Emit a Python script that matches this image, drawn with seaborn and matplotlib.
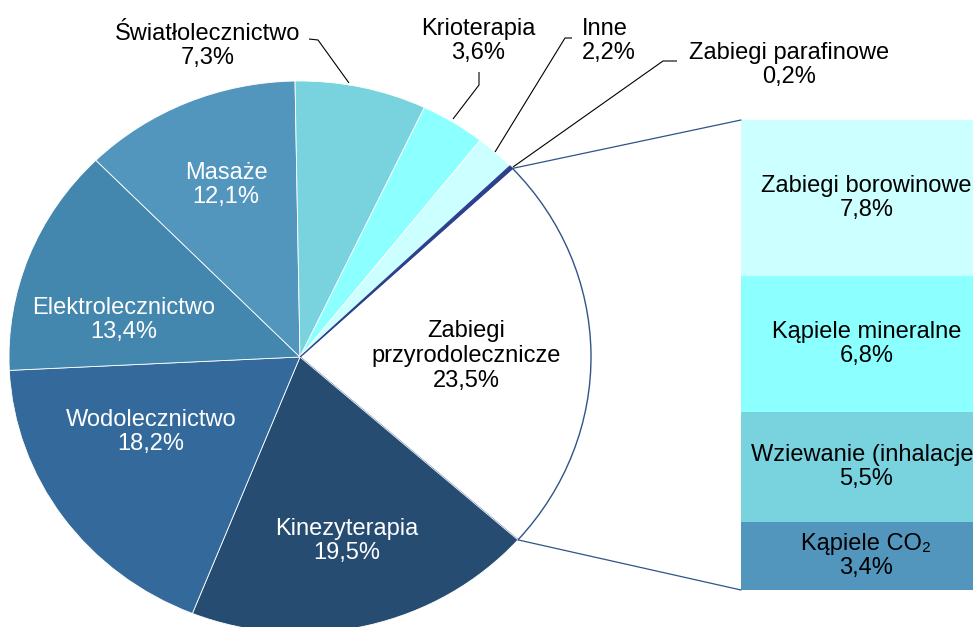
import matplotlib
matplotlib.use("Agg")
import matplotlib.pyplot as plt
from matplotlib.patches import ConnectionPatch
import seaborn as sns
import numpy as np

# ---------------- data ----------------
pie_labels = ["Zabiegi\nprzyrodolecznicze", "Kinezyterapia", "Wodolecznictwo",
              "Elektrolecznictwo", "Masaże", "Światłolecznictwo", "Krioterapia",
              "Inne", "Zabiegi parafinowe"]
pie_values = [23.5, 19.5, 18.2, 13.4, 12.1, 7.3, 3.6, 2.2, 0.2]
pie_colors = ["#FFFFFF", "#264C72", "#33699B", "#4386AE", "#5296BE",
              "#78D3DF", "#8CFFFF", "#CCFFFF", "#2E3F8F"]

bar_labels = ["Kąpiele CO₂", "Wziewanie (inhalacje)", "Kąpiele mineralne", "Zabiegi borowinowe"]
bar_values = [3.4, 5.5, 6.8, 7.8]
bar_colors = ["#5296BE", "#78D3DF", "#8CFFFF", "#CCFFFF"]

def fmt(v):
    return f"{v:.1f}".replace(".", ",") + "%"

# ---------------- style ----------------
sns.set_theme(style="white")
plt.rcParams['font.family'] = ['Liberation Sans', 'DejaVu Sans']
FS = 17.0
LS = 1.17

W, H = 973, 627
fig = plt.figure(figsize=(W / 100, H / 100), dpi=100)

# pie geometry (pixels)
CX, CY, RX, RY = 300, 357, 291, 276

ax = fig.add_axes([0, 0, 1, 1])
wedges, _ = ax.pie(pie_values, colors=pie_colors, startangle=43.1, counterclock=False,
                   radius=1, center=(0, 0),
                   wedgeprops=dict(edgecolor="white", linewidth=0.6))
wedges[0].set_edgecolor("#2F5488")
wedges[0].set_linewidth(1.0)
wedges[-1].set_edgecolor("#2E3F8F")
wedges[-1].set_linewidth(0.8)
ax.set_aspect("auto")
ax.set_xlim(-CX / RX, (W - CX) / RX)
ax.set_ylim(-(H - CY) / RY, CY / RY)
ax.axis("off")

def p2d(x, y):
    return (x - CX) / RX, (CY - y) / RY

# labels inside the pie
inner = {  # label index: (px, py, color)
    0: (466, 356, "black"),
    1: (347, 541, "white"),
    2: (151, 432, "white"),
    3: (124, 320, "white"),
    4: (226, 185, "white"),
}
for i, (px, py, col) in inner.items():
    x, y = p2d(px, py)
    ax.text(x, y, f"{pie_labels[i]}\n{fmt(pie_values[i])}", ha="center", va="center",
            color=col, fontsize=FS, linespacing=LS)

# outside labels with leader lines
outer = {
    5: ((208, 46), "center", [(309, 39), (318, 40), (349, 83)]),
    6: ((478, 41), "center", [(479, 72), (479, 85), (453, 119)]),
    7: ((582, 41), "left", [(572, 38), (565, 38), (495, 152)]),
    8: ((789, 65), "center", [(677, 61), (663, 61), (513, 167)]),
}
for i, ((px, py), ha, path) in outer.items():
    x, y = p2d(px, py)
    ax.text(x, y, f"{pie_labels[i]}\n{fmt(pie_values[i])}", ha=ha, va="center",
            color="black", fontsize=FS, linespacing=LS)
    pts = np.array([p2d(a, b) for a, b in path])
    ax.plot(pts[:, 0], pts[:, 1], color="black", lw=0.8, solid_capstyle="butt")

# ---------------- stacked bar ----------------
BX0, BY0, BW, BH = 741, 120, 256, 470
bax = fig.add_axes([BX0 / W, (H - BY0 - BH) / H, BW / W, BH / H])
bottoms = np.concatenate([[0], np.cumsum(bar_values)[:-1]])
bax.bar([0] * len(bar_values), bar_values, bottom=bottoms, width=1.0,
        color=bar_colors, edgecolor="none")
total = sum(bar_values)
bax.set_xlim(-0.5, 0.5)
bax.set_ylim(0, total)
bax.axis("off")
for lab, v, b in zip(bar_labels, bar_values, bottoms):
    bax.text(-0.01, b + v / 2, f"{lab}\n{fmt(v)}", ha="center", va="center",
             fontsize=FS, color="black", linespacing=LS, clip_on=False)

# connector lines from pie to bar
t1, t2 = np.deg2rad(wedges[0].theta1), np.deg2rad(wedges[0].theta2)
for th, yb in [(t2, total), (t1, 0)]:
    con = ConnectionPatch(xyA=(np.cos(th), np.sin(th)), coordsA=ax.transData,
                          xyB=(-0.5, yb), coordsB=bax.transData,
                          color="#2F5488", lw=0.9)
    fig.add_artist(con)

fig.savefig("out.png", dpi=100)
